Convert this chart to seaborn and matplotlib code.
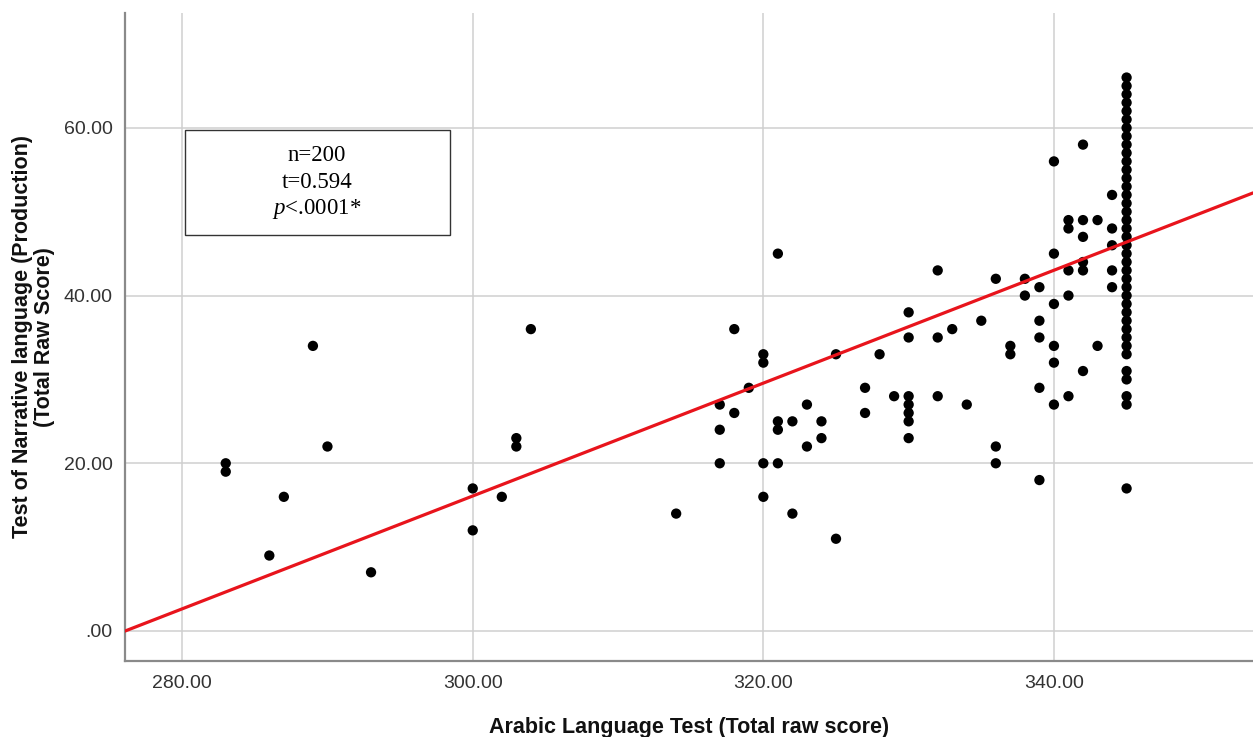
import matplotlib
matplotlib.use("Agg")
import matplotlib.pyplot as plt
from matplotlib.patches import Rectangle
import seaborn as sns
import pandas as pd

# Arabic Language Test score (x) and Narrative language score (y)
arabic_scores = [
    283, 283, 286, 287, 289, 290, 293,
    300, 300, 302, 303, 303, 304,
    314, 317, 317, 317, 318, 318, 319,
    320, 320, 320, 320, 321, 321, 321, 321,
    322, 322, 323, 323, 324, 324, 325, 325,
    327, 327, 328, 329,
    330, 330, 330, 330, 330, 330, 330,
    332, 332, 332, 333, 334, 335,
    336, 336, 336, 337, 337, 338, 338,
    339, 339, 339, 339, 339,
    340, 340, 340, 340, 340, 340,
    341, 341, 341, 341, 341,
    342, 342, 342, 342, 342, 342,
    343, 343, 344, 344, 344, 344, 344,
    345, 345, 345, 345, 345, 345, 345, 345, 345, 345,
    345, 345, 345, 345, 345, 345, 345, 345, 345, 345,
    345, 345, 345, 345, 345, 345, 345, 345, 345, 345,
    345, 345, 345, 345, 345, 345, 345, 345, 345,
]
narrative_scores = [
    20, 19, 9, 16, 34, 22, 7,
    17, 12, 16, 23, 22, 36,
    14, 27, 24, 20, 36, 26, 29,
    33, 32, 20, 16, 45, 25, 24, 20,
    25, 14, 27, 22, 25, 23, 33, 11,
    29, 26, 33, 28,
    38, 35, 28, 27, 26, 25, 23,
    43, 35, 28, 36, 27, 37,
    42, 22, 20, 34, 33, 42, 40,
    41, 37, 35, 29, 18,
    56, 45, 39, 34, 32, 27,
    49, 48, 43, 40, 28,
    58, 49, 47, 44, 43, 31,
    49, 34, 52, 48, 46, 43, 41,
    66, 65, 64, 63, 62, 61, 60, 59, 58, 57,
    56, 55, 54, 53, 52, 51, 50, 49, 48, 47,
    46, 45, 44, 43, 42, 41, 40, 39, 38, 37,
    36, 35, 34, 33, 31, 30, 28, 27, 17,
]

# fitted line as reported in the chart
fit_intercept = -185.8
fit_slope = 0.673

x_ticks = [280, 300, 320, 340]
y_ticks = [0, 20, 40, 60]
stats_lines = ["n=200", "t=0.594", r"$\it{p}$<.0001*"]

df = pd.DataFrame({"arabic": arabic_scores, "narrative": narrative_scores})

sns.set_theme(style="white")
plt.rcParams["font.family"] = ["Liberation Sans", "DejaVu Sans"]
plt.rcParams["mathtext.fontset"] = "custom"
plt.rcParams["mathtext.it"] = "Liberation Serif:italic"
plt.rcParams["mathtext.rm"] = "Liberation Serif"

fig = plt.figure(figsize=(12.53, 7.37), dpi=100)
ax = fig.add_axes([0.0998, 0.1031, 0.9002, 0.8793])

sns.scatterplot(data=df, x="arabic", y="narrative", color="black", s=55,
                edgecolor="none", ax=ax, zorder=3)
ax.axline((0, fit_intercept), slope=fit_slope, color="#e8141c", lw=2.3, zorder=4)

ax.set_xlim(276.07, 353.7)
ax.set_ylim(-3.58, 73.7)
ax.set_xticks(x_ticks)
ax.set_yticks(y_ticks)
ax.set_xticklabels([f"{v:.2f}" for v in x_ticks])
ax.set_yticklabels([".00" if v == 0 else f"{v:.2f}" for v in y_ticks])
ax.tick_params(axis="both", length=0, labelsize=14, labelcolor="#333333")
ax.tick_params(axis="x", pad=10)
ax.tick_params(axis="y", pad=9)

ax.grid(True, color="#cfcfcf", lw=1.1)
ax.set_axisbelow(True)
for side in ["top", "right"]:
    ax.spines[side].set_visible(False)
for side in ["left", "bottom"]:
    ax.spines[side].set_color("#8a8a8a")
    ax.spines[side].set_linewidth(1.6)

ax.set_xlabel("Arabic Language Test (Total raw score)", fontsize=15.5,
              fontweight="bold", color="#111111")
ax.set_ylabel("Test of Narrative language (Production)\n(Total Raw Score)",
              fontsize=15.5, fontweight="bold", linespacing=1.05, color="#111111")
ax.xaxis.set_label_coords(0.5, -0.087)
ax.yaxis.set_label_coords(-0.062, 0.5)

# stats box
ax.add_patch(Rectangle((0.0532, 0.657), 0.2348, 0.162, transform=ax.transAxes,
                       facecolor="white", edgecolor="#333333", lw=1.0, zorder=5))
for line, ypos in zip(stats_lines, [0.780, 0.7385, 0.697]):
    ax.text(0.170, ypos, line, transform=ax.transAxes, ha="center", va="center",
            fontsize=16.5, family="Liberation Serif", color="black", zorder=6)

plt.savefig("out.png", dpi=100)
